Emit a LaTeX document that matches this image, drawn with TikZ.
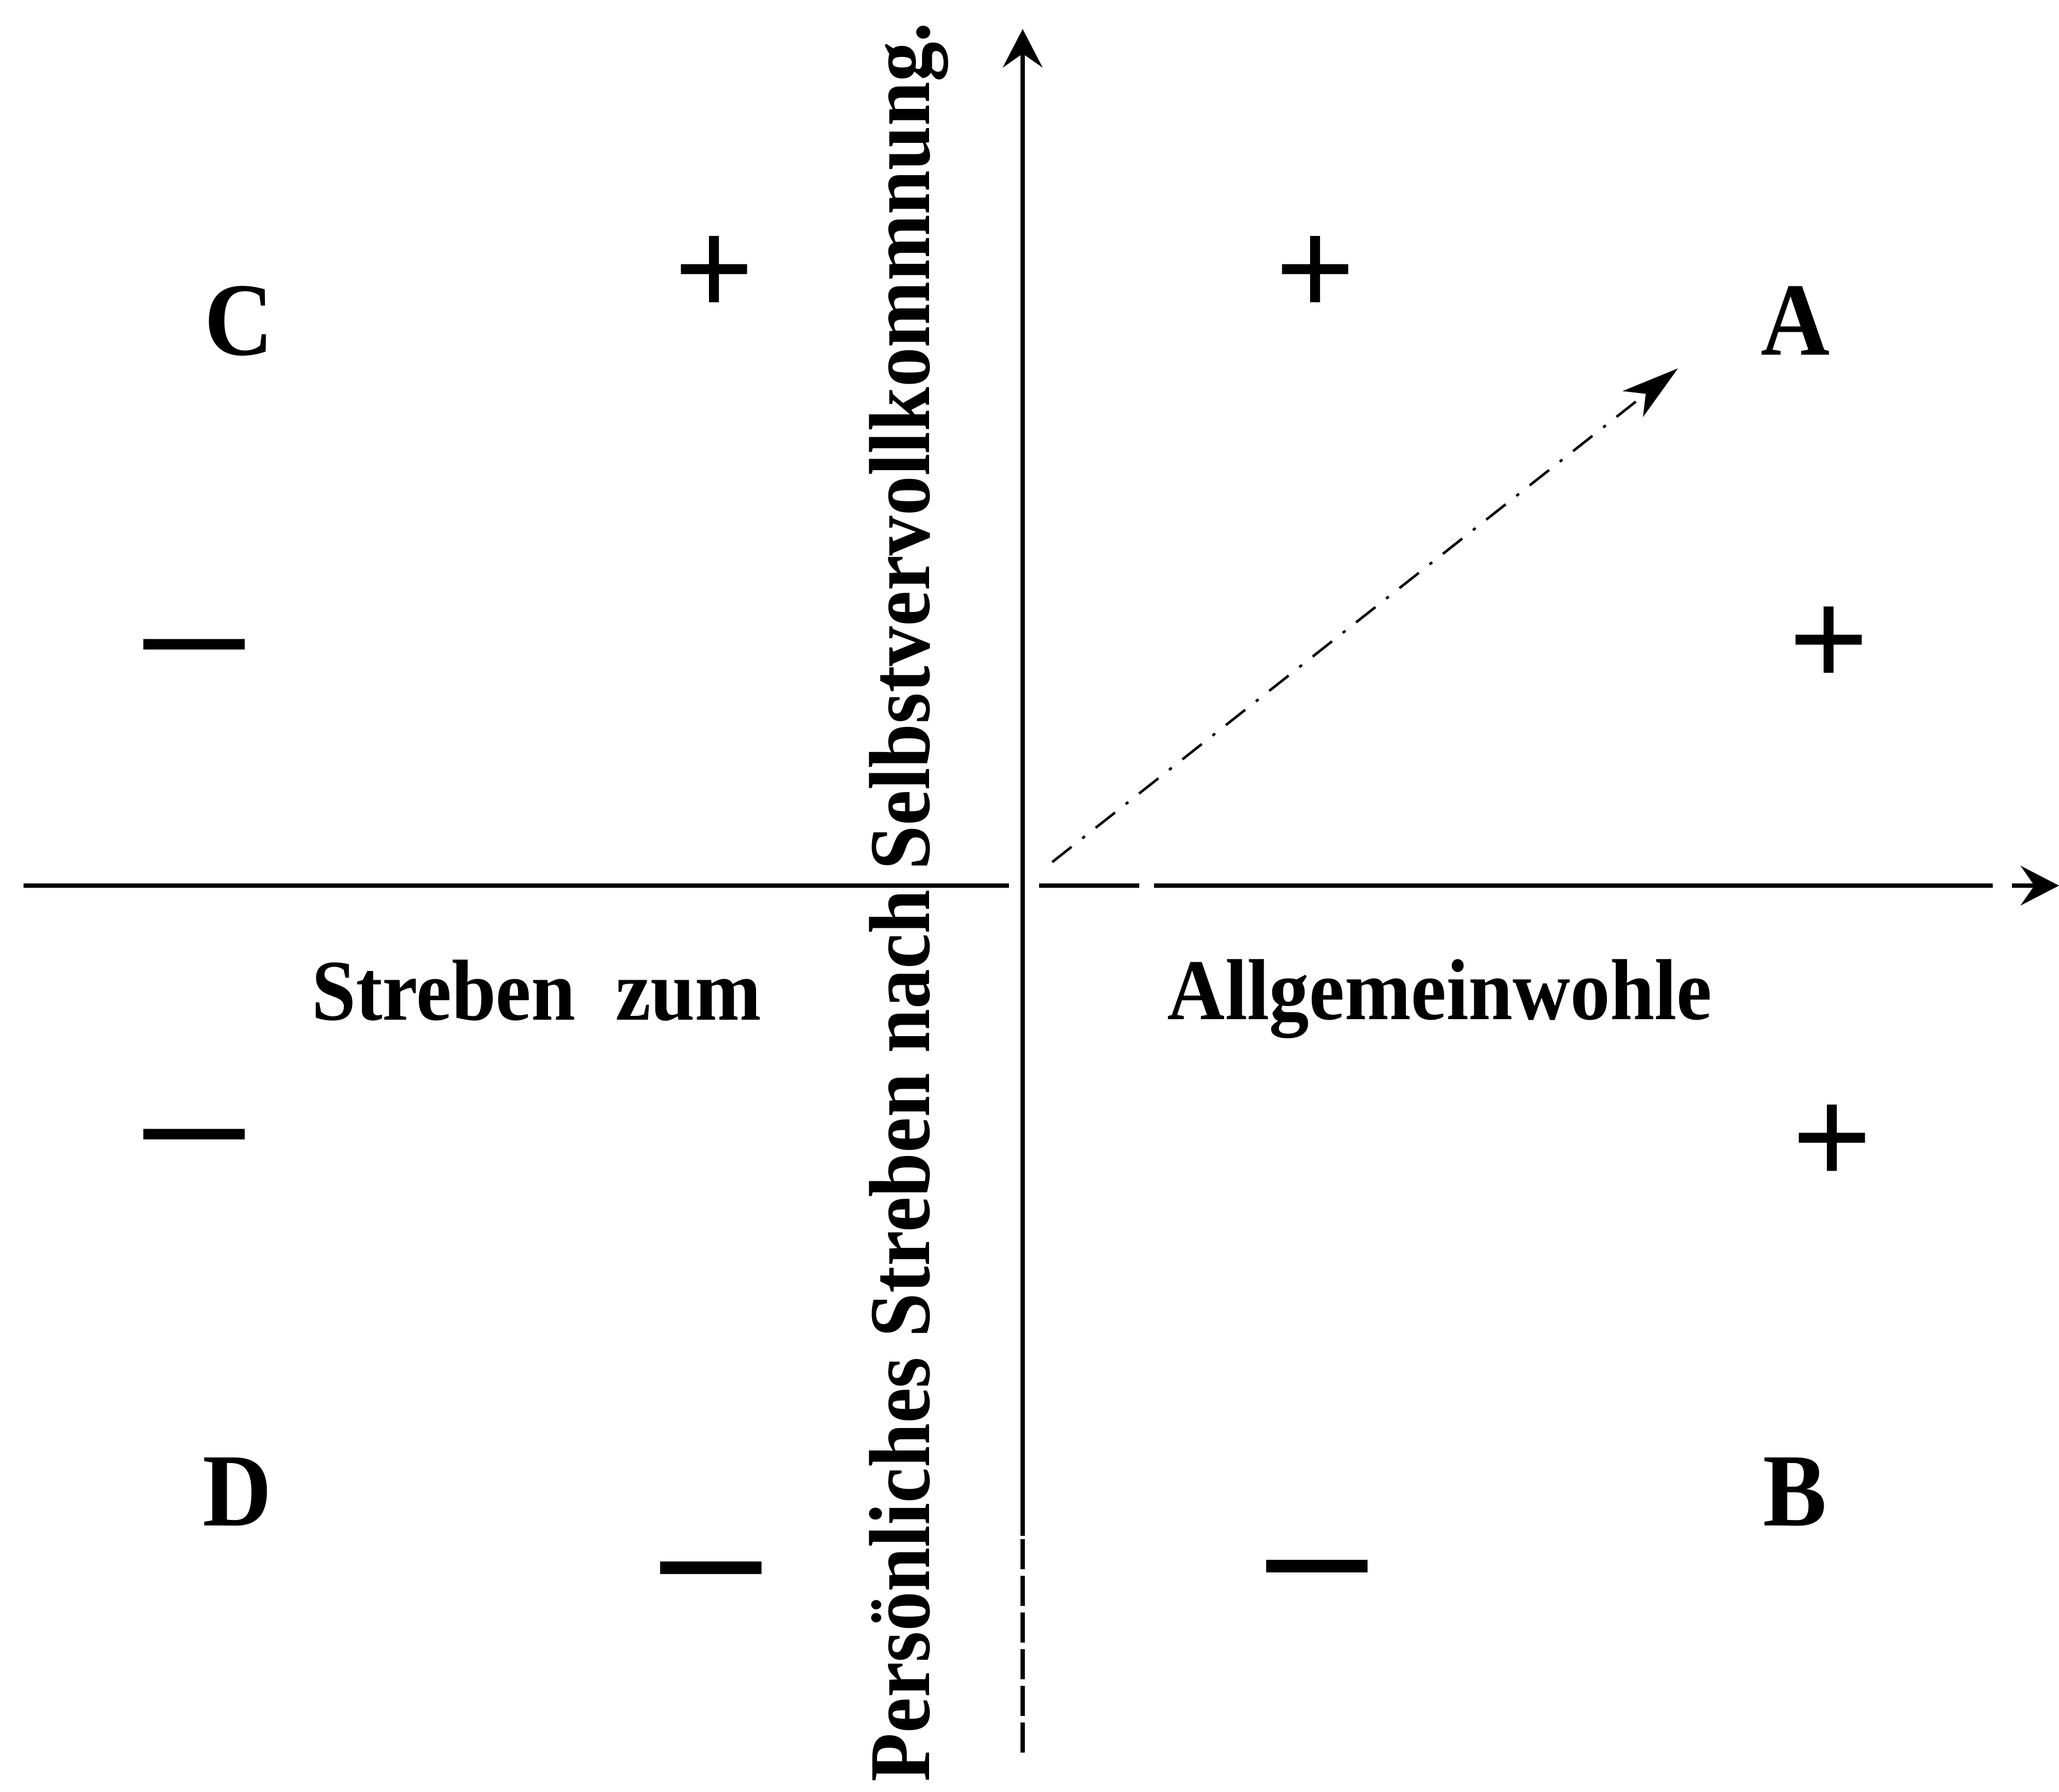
\documentclass[tikz,border=0pt]{standalone}
\usepackage{fontspec}
\setmainfont{Liberation Serif}
\usepackage{graphicx}
\usepackage{tikz}
\usetikzlibrary{arrows.meta, positioning, calc}

\newcommand{\narrow}[1]{\scalebox{0.92}[1]{#1}}

\begin{document}
\begin{tikzpicture}[
    font=\fontsize{45pt}{54pt}\selectfont\bfseries,
    word/.style={inner sep=0pt, anchor=base},
    quad/.style={inner sep=0pt, anchor=base, font=\fontsize{54pt}{60pt}\selectfont\bfseries},
    sgn/.style={inner sep=0pt, font=\fontsize{74pt}{80pt}\selectfont\bfseries},
    dsh/.style={inner sep=0pt, font=\fontsize{52pt}{58pt}\selectfont\bfseries},
    axis/.style={line width=2.4pt},
    arr/.style={-{Stealth[length=0.7cm, width=0.72cm, inset=0.25cm]}, line width=2.4pt},
    ray/.style={-{Stealth[length=1.05cm, width=0.6cm, inset=0.3cm]}, line width=1.3pt,
                dash pattern=on 0.45cm off 0.25cm on 0.06cm off 0.25cm}
]
\useasboundingbox (0,0) rectangle (37.61,-32.73);

% Axes
\coordinate (o) at (18.68,-16.18);
\coordinate (top) at (18.68,-0.53);
\coordinate (brk) at (18.68,-28.06);
\coordinate (bot) at (18.68,-32.02);
\coordinate (w) at (0.43,-16.18);
\coordinate (wl) at (18.43,-16.18);
\coordinate (er) at (18.98,-16.18);
\coordinate (e1) at (20.81,-16.18);
\coordinate (e2) at (21.08,-16.18);
\coordinate (e3) at (36.40,-16.18);
\coordinate (e4) at (36.75,-16.18);
\coordinate (east) at (37.61,-16.18);

\draw[arr] (brk) -- (top);
\draw[axis, dash pattern=on 0.55cm off 0.12cm] (bot) -- (brk);
\draw[axis] (w) -- (wl);
\draw[axis] (er) -- (e1);
\draw[axis] (e2) -- (e3);
\draw[arr] (e4) -- (east);

% Quadrant letters
\node[quad] (C) at (4.37,-6.48) {\narrow{C}};
\node[quad] (A) at (32.80,-6.48) {\narrow{A}};
\node[quad] (D) at (4.34,-27.87) {\narrow{D}};
\node[quad] (B) at (32.79,-27.87) {\narrow{B}};

% Signs
\node[sgn] (p1) at (13.05,-5.05) {+};
\node[sgn] (p2) at (24.03,-5.05) {+};
\node[sgn] (p3) at (33.41,-11.82) {+};
\node[sgn] (p4) at (33.47,-20.92) {+};
\node[dsh] (m1) at (3.55,-12.05) {\scalebox{1}[1.5]{—}};
\node[dsh] (m2) at (3.55,-21.00) {\scalebox{1}[1.5]{—}};
\node[dsh] (m3) at (12.99,-28.97) {\scalebox{1}[1.8]{—}};
\node[dsh] (m4) at (24.06,-28.94) {\scalebox{1}[1.8]{—}};

% Axis texts
\node[word] (sz) at (9.80,-18.63) {\narrow{Streben\hspace{0.25em} zum}};
\node[word] (aw) at (26.30,-18.62) {\narrow{Allgemeinwohle}};
\node[word, rotate=90, anchor=base east] (ps) at (16.97,-0.40)
    {\narrow{Persönliches Streben nach Selbstvervollkommnung.}};

% Direction
\coordinate (o2) at (19.22,-15.75);
\coordinate (tipA) at (30.65,-6.73);
\draw[ray] (o2) -- (tipA);

\end{tikzpicture}
\end{document}
